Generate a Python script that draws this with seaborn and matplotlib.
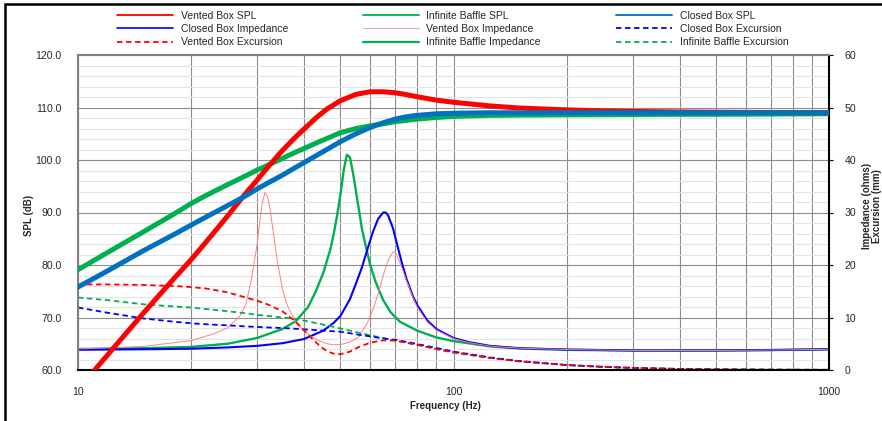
import matplotlib
matplotlib.use("Agg")
import matplotlib.pyplot as plt
import matplotlib.ticker as mticker
from matplotlib.lines import Line2D
import seaborn as sns

# SPL curves (left axis, dB)
spl_freq = [10, 12, 15, 18, 20, 22, 25, 28, 30, 32, 35, 38, 40, 43, 46, 50, 55, 60, 65,
            70, 75, 80, 90, 100, 110, 125, 150, 200, 250, 300, 400, 500, 700, 1000]
vented_spl = [56.3, 62.9, 71.0, 77.4, 81.0, 84.5, 89.3, 93.7, 96.2, 98.6, 101.8, 104.4, 105.9,
              108.0, 109.7, 111.3, 112.5, 113.0, 113.0, 112.8, 112.45, 112.05, 111.4, 111.0,
              110.7, 110.3, 109.9, 109.55, 109.35, 109.25, 109.15, 109.1, 109.05, 109.0]
closed_spl = [75.8, 78.9, 82.8, 85.8, 87.6, 89.2, 91.3, 93.2, 94.5, 95.6, 97.1, 98.6, 99.5,
              100.8, 102.0, 103.5, 105.0, 106.2, 107.1, 107.8, 108.25, 108.5, 108.8, 108.9,
              108.95, 109.0, 109.0, 109.0, 109.0, 109.0, 109.0, 109.0, 109.0, 109.0]
baffle_spl = [79.1, 82.4, 86.4, 89.7, 91.7, 93.3, 95.3, 97.0, 98.1, 99.0, 100.3, 101.5, 102.2,
              103.2, 104.1, 105.2, 106.0, 106.5, 106.9, 107.3, 107.55, 107.8, 108.1, 108.3,
              108.4, 108.5, 108.55, 108.6, 108.62, 108.65, 108.7, 108.7, 108.75, 108.8]

# impedance curves (right axis, ohms)
vented_imp_freq = [10, 15, 20, 23, 25, 27, 28, 29, 30, 30.5, 31, 31.5, 32, 32.5, 33, 34, 35, 36,
                   38, 40, 43, 46, 48, 50, 53, 56, 59, 61, 63, 65, 67, 69, 70, 72, 75, 78, 80,
                   85, 90, 100, 110, 125, 150, 200, 300, 500, 700, 1000]
vented_imp = [4.0, 4.5, 5.6, 6.9, 8.0, 10.3, 12.5, 17.5, 24.0, 28.5, 32.0, 33.8, 33.0, 30.5,
              27.0, 20.5, 15.5, 12.5, 9.0, 7.3, 5.8, 5.0, 4.8, 4.85, 5.3, 6.3, 9.0, 11.5, 14.5,
              18.0, 21.0, 22.5, 22.4, 20.5, 17.0, 13.8, 12.0, 9.2, 7.6, 6.0, 5.2, 4.55, 4.15,
              3.9, 3.72, 3.72, 3.8, 3.95]
closed_imp_freq = [10, 15, 20, 25, 30, 35, 40, 45, 48, 50, 53, 55, 57, 59, 61, 63, 65, 66, 67,
                   69, 71, 73, 75, 78, 80, 85, 90, 100, 110, 125, 150, 200, 300, 500, 700, 1000]
closed_imp = [3.85, 3.95, 4.05, 4.3, 4.6, 5.1, 5.9, 7.5, 9.0, 10.3, 13.5, 16.5, 19.5, 23.0,
              26.3, 28.8, 30.0, 30.0, 29.4, 27.0, 23.5, 20.2, 17.3, 14.0, 12.4, 9.5, 7.8, 6.1,
              5.3, 4.6, 4.15, 3.9, 3.72, 3.72, 3.8, 3.95]
baffle_imp_freq = [10, 15, 20, 25, 30, 35, 38, 41, 43, 45, 47, 48, 49, 50, 51, 52, 53, 54, 55,
                   56, 57, 58, 60, 62, 65, 68, 72, 80, 90, 100, 125, 150, 200, 300, 500, 700, 1000]
baffle_imp = [4.0, 4.15, 4.4, 5.0, 6.1, 7.8, 9.3, 12.0, 15.0, 18.5, 23.0, 26.0, 29.5, 33.5,
              38.0, 41.0, 40.5, 37.5, 34.0, 30.5, 27.0, 24.5, 20.0, 16.8, 13.3, 11.0, 9.2, 7.5,
              6.2, 5.5, 4.5, 4.1, 3.85, 3.7, 3.72, 3.8, 3.95]

# excursion curves (right axis, mm)
exc_freq = [10, 12, 15, 18, 20, 22, 25, 28, 30, 32, 35, 38, 40, 42, 44, 46, 48, 50, 53, 56,
            60, 65, 70, 75, 80, 90, 100, 125, 150, 200, 250, 300, 400, 500, 700, 1000]
vented_exc = [16.3, 16.3, 16.2, 16.0, 15.8, 15.5, 14.8, 13.8, 13.2, 12.5, 11.2, 9.2, 7.6, 6.0,
              4.6, 3.6, 3.1, 3.0, 3.5, 4.4, 5.2, 5.65, 5.6, 5.2, 4.8, 4.0, 3.4, 2.3, 1.65, 0.95,
              0.6, 0.4, 0.2, 0.13, 0.06, 0.03]
closed_exc = [11.9, 10.9, 9.8, 9.2, 8.9, 8.7, 8.5, 8.3, 8.2, 8.1, 8.0, 7.85, 7.75, 7.65, 7.55,
              7.45, 7.38, 7.3, 7.0, 6.7, 6.4, 6.0, 5.75, 5.35, 4.95, 4.2, 3.5, 2.4, 1.7, 0.95,
              0.6, 0.4, 0.2, 0.13, 0.06, 0.03]
baffle_exc = [13.8, 13.3, 12.5, 12.1, 11.9, 11.6, 11.2, 10.8, 10.5, 10.3, 10.0, 9.7, 9.4, 9.1,
              8.8, 8.5, 8.2, 7.9, 7.5, 7.1, 6.6, 6.1, 5.6, 5.2, 4.8, 4.0, 3.3, 2.3, 1.65, 0.95,
              0.6, 0.4, 0.2, 0.13, 0.06, 0.03]

RED = "#FF0000"
GREEN = "#00B050"
STEEL = "#0070C0"
BLUE = "#0000FF"
PINK = "#FF8080"
DASH = (0, (3, 2))

sns.set_style("white")
plt.rcParams["font.family"] = ["Liberation Sans", "DejaVu Sans"]

fig = plt.figure(figsize=(8.82, 4.21), dpi=100)
ax = fig.add_axes([78 / 882, 1 - 370 / 421, 751 / 882, 315 / 421])
ax2 = ax.twinx()

# impedance / excursion underneath, SPL on top
ax.set_zorder(3)
ax.patch.set_visible(False)
ax2.set_zorder(2)
ax2.patch.set_visible(True)
ax2.patch.set_facecolor("white")

sns.lineplot(x=baffle_imp_freq, y=baffle_imp, ax=ax2, color=GREEN, lw=1.7)
sns.lineplot(x=closed_imp_freq, y=closed_imp, ax=ax2, color=BLUE, lw=1.5)
sns.lineplot(x=vented_imp_freq, y=vented_imp, ax=ax2, color=PINK, lw=0.7)
sns.lineplot(x=exc_freq, y=baffle_exc, ax=ax2, color=GREEN, lw=1.3, linestyle=DASH)
sns.lineplot(x=exc_freq, y=closed_exc, ax=ax2, color=BLUE, lw=1.3, linestyle=DASH)
sns.lineplot(x=exc_freq, y=vented_exc, ax=ax2, color=RED, lw=1.3, linestyle=DASH)

sns.lineplot(x=spl_freq, y=baffle_spl, ax=ax, color=GREEN, lw=3.6)
sns.lineplot(x=spl_freq, y=vented_spl, ax=ax, color=RED, lw=3.6)
sns.lineplot(x=spl_freq, y=closed_spl, ax=ax, color=STEEL, lw=3.6)

ax.set_xscale("log")
ax.set_xlim(10, 1000)
ax.set_ylim(60, 120)
ax2.set_ylim(0, 60)
ax.xaxis.set_major_locator(mticker.FixedLocator([10, 100, 1000]))
ax.xaxis.set_major_formatter(mticker.FuncFormatter(lambda v, p: f"{v:g}"))
ax.xaxis.set_minor_locator(mticker.LogLocator(base=10, subs=range(2, 10)))
ax.xaxis.set_minor_formatter(mticker.NullFormatter())
ax.yaxis.set_major_locator(mticker.MultipleLocator(10))
ax.yaxis.set_major_formatter(mticker.FormatStrFormatter("%.1f"))
ax2.yaxis.set_major_locator(mticker.MultipleLocator(10))
ax2.yaxis.set_minor_locator(mticker.MultipleLocator(2))

# grid lives on the lower axes
ax2.xaxis.set_visible(True)
ax2.tick_params(axis="x", which="both", length=0, labelbottom=False, labeltop=False)
ax2.grid(which="major", axis="both", color="#8C8C8C", lw=0.8)
ax2.grid(which="minor", axis="x", color="#8C8C8C", lw=0.8)
ax2.grid(which="minor", axis="y", color="#E3E3E3", lw=0.8)
ax.grid(False)

ax.tick_params(axis="y", length=0, pad=12, labelsize=7.6)
ax.tick_params(axis="x", which="both", length=0, pad=12, labelsize=7.6)
ax2.tick_params(axis="y", which="major", length=3, width=0.8, color="black",
                direction="out", pad=8, labelsize=7.6)
ax2.tick_params(axis="y", which="minor", length=0)

for s in ax.spines.values():
    s.set_visible(False)
ax2.spines["left"].set_color("#808080")
ax2.spines["top"].set_color("#808080")
ax2.spines["bottom"].set_color("black")
ax2.spines["right"].set_color("black")
for s in ax2.spines.values():
    s.set_linewidth(1.5)
    s.set_visible(True)

ax.set_xlabel("Frequency (Hz)", fontsize=7, fontweight="bold")
ax.xaxis.set_label_coords((445 - 78) / 751, -0.098)
ax.set_ylabel("SPL (dB)", fontsize=7, fontweight="bold")
ax.yaxis.set_label_coords((34 - 78) / 751, 0.49)
ax2.set_ylabel("Impedance (ohms)\nExcursion (mm)", fontsize=7, fontweight="bold",
               linespacing=0.95)
ax2.yaxis.set_label_coords((862 - 78) / 751, 0.52)

# legend, filled column by column
handles = [
    Line2D([], [], color=RED, lw=1.3),
    Line2D([], [], color=BLUE, lw=1.2),
    Line2D([], [], color=RED, lw=1.3, linestyle=DASH),
    Line2D([], [], color=GREEN, lw=1.3),
    Line2D([], [], color="#F4A8A8", lw=0.8),
    Line2D([], [], color=GREEN, lw=1.6),
    Line2D([], [], color=STEEL, lw=1.3),
    Line2D([], [], color=BLUE, lw=1.3, linestyle=DASH),
    Line2D([], [], color=GREEN, lw=1.3, linestyle=DASH),
]
labels = ["Vented Box SPL", "Closed Box Impedance", "Vented Box Excursion",
          "Infinite Baffle SPL", "Vented Box Impedance", "Infinite Baffle Impedance",
          "Closed Box SPL", "Closed Box Excursion", "Infinite Baffle Excursion"]
fig.legend(handles, labels, ncol=3, loc="upper left", bbox_to_anchor=(117 / 882, 1 - 11 / 421),
           frameon=False, fontsize=7.5, handlelength=5.4, handletextpad=0.7,
           columnspacing=7.2, labelspacing=0.3, borderpad=0, borderaxespad=0)

# outer frame (left and top edges visible)
fig.add_artist(Line2D([5 / 882, 5 / 882], [0, 1 - 4 / 421], color="black", lw=1.8,
                      transform=fig.transFigure))
fig.add_artist(Line2D([5 / 882, 1], [1 - 4 / 421, 1 - 4 / 421], color="black", lw=1.8,
                      transform=fig.transFigure))

fig.savefig("out.png", dpi=100)
